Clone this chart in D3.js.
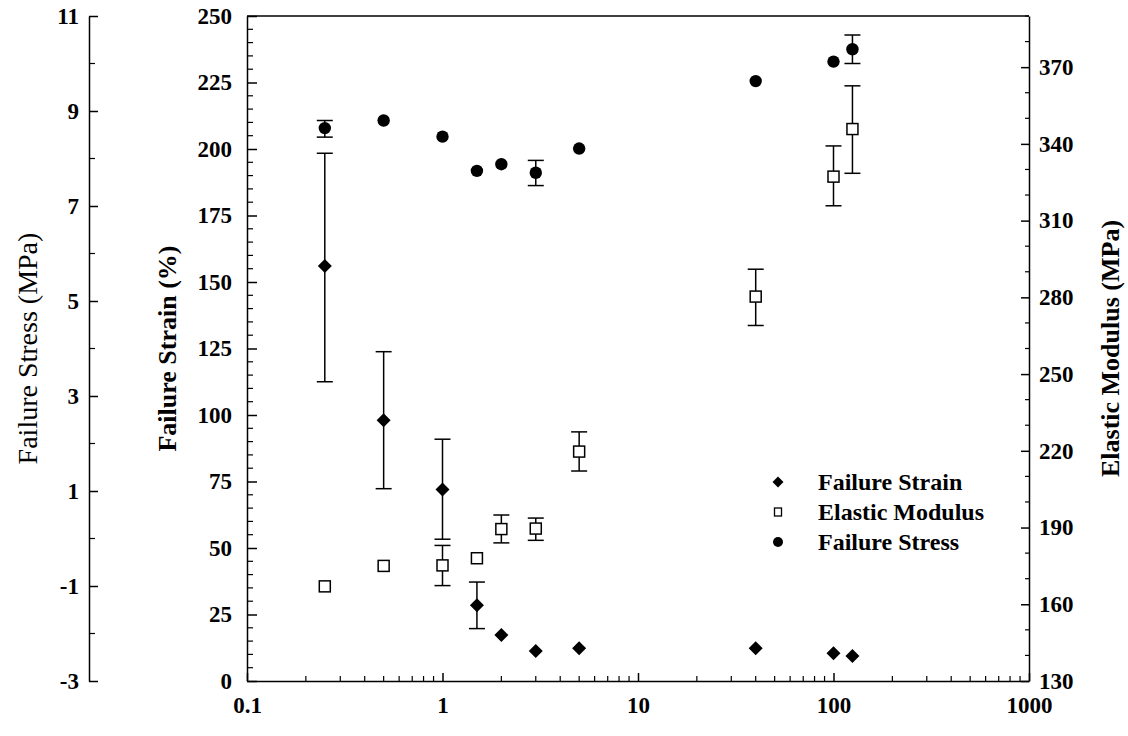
<!DOCTYPE html>
<html><head><meta charset="utf-8">
<script src="https://cdn.jsdelivr.net/npm/d3@7"></script>
<style>
html,body{margin:0;padding:0;background:#fff;}
svg{display:block;}
text{font-family:"Liberation Serif","Times New Roman",serif;fill:#000;}
</style></head>
<body>
<svg id="chart" width="1128" height="736"></svg>
<script>
// ---- data ----
const rates = [0.25, 0.5, 1, 1.5, 2, 3, 5, 40, 100, 125];
const strain = [156, 98, 72, 28.5, 17.3, 11.3, 12.3, 12.3, 10.4, 9.4];
const strainLo = [112.5, 72.3, 53.3, 19.7, null, null, null, null, null, null];
const strainHi = [198.4, 123.8, 90.9, 37.2, null, null, null, null, null, null];
const modulus = [167, 175, 175.2, 178, 189.4, 189.6, 219.7, 280.3, 327.2, 345.8];
const modulusLo = [null, null, 167.3, null, 184, 185, 212.1, 269, 315.8, 328.5];
const modulusHi = [null, null, 183, null, 194.9, 193.7, 227.4, 291, 339.2, 362.7];
const stress = [8.64, 8.80, 8.46, 7.74, 7.88, 7.70, 8.21, 9.63, 10.04, 10.30];
const stressLo = [8.45, null, null, null, null, 7.43, null, null, null, 10.0];
const stressHi = [8.80, null, null, null, null, 7.96, null, null, null, 10.6];
const xTicks = [0.1, 1, 10, 100, 1000];
const xTickLabels = ["0.1", "1", "10", "100", "1000"];
const strainTicks = [0, 25, 50, 75, 100, 125, 150, 175, 200, 225, 250];
const stressTicks = [-3, -1, 1, 3, 5, 7, 9, 11];
const modulusTicks = [130, 160, 190, 220, 250, 280, 310, 340, 370];
const seriesNames = ["Failure Strain", "Elastic Modulus", "Failure Stress"];

// ---- layout ----
const L = 247, R = 1029, T = 16, B = 681;
const svg = d3.select("#chart");
svg.append("rect").attr("width",1128).attr("height",736).attr("fill","#fff");

const x = d3.scaleLog().domain([0.1, 1000]).range([L, R]);
const yStrain = d3.scaleLinear().domain([0, 250]).range([B, T]);
const yStress = d3.scaleLinear().domain([-3, 11]).range([B, T]);
const yMod = d3.scaleLinear().domain([130, 390]).range([B, T]);

const fmt = d => String(d);
const tickFont = g => g.selectAll("text").style("font-size","23px").style("font-weight","bold");
const cleanLines = g => g.selectAll("line,path").attr("stroke","#000").attr("stroke-width",1.5);

function minorY(scale, vals, xpos, len) {
  svg.append("g").selectAll("line").data(vals).join("line")
    .attr("x1", xpos).attr("x2", xpos + len)
    .attr("y1", d => scale(d)).attr("y2", d => scale(d))
    .attr("stroke","#000").attr("stroke-width",1.2);
}

// strain axis (left of plot)
const strainMinor = d3.range(0, 251, 5).filter(v => v % 25 !== 0);
minorY(yStrain, strainMinor, L, 6);
svg.append("g").attr("transform",`translate(${L},0)`)
  .call(d3.axisLeft(yStrain).tickValues(strainTicks).tickFormat(fmt).tickSizeInner(-10).tickSizeOuter(0).tickPadding(15))
  .call(tickFont).call(cleanLines);

// stress axis (far left)
const stressAxisX = 89;
const stressMinor = d3.range(-2, 11, 2);
minorY(yStress, stressMinor, stressAxisX, 6);
svg.append("g").attr("transform",`translate(${stressAxisX},0)`)
  .call(d3.axisLeft(yStress).tickValues(stressTicks).tickFormat(fmt).tickSizeInner(-9).tickSizeOuter(0).tickPadding(10))
  .call(tickFont).call(cleanLines);

// modulus axis (right)
const modMinor = d3.range(130, 391, 10).filter(v => (v - 130) % 30 !== 0);
minorY(yMod, modMinor, R, -4);
svg.append("g").attr("transform",`translate(${R},0)`)
  .call(d3.axisRight(yMod).tickValues(modulusTicks).tickFormat(fmt).tickSizeInner(-8).tickSizeOuter(0).tickPadding(10))
  .call(tickFont).call(cleanLines);

// x axis
const xMinor = [];
[0.1, 1, 10, 100].forEach(d => { for (let k = 2; k <= 9; k++) xMinor.push(d * k); });
svg.append("g").selectAll("line").data(xMinor).join("line")
  .attr("x1", d => x(d)).attr("x2", d => x(d)).attr("y1", B).attr("y2", B - 5)
  .attr("stroke","#000").attr("stroke-width",1.2);
svg.append("g").attr("transform",`translate(0,${B})`)
  .call(d3.axisBottom(x).tickValues(xTicks).tickFormat((d,i) => xTickLabels[i]).tickSizeInner(-8).tickSizeOuter(0).tickPadding(16))
  .call(tickFont).call(cleanLines);

// top border
svg.append("line").attr("x1", L).attr("x2", R).attr("y1", T).attr("y2", T)
  .attr("stroke","#000").attr("stroke-width",1.5);

// axis titles
svg.append("text").attr("transform",`translate(27,${(T+B)/2}) rotate(-90)`)
  .attr("text-anchor","middle").attr("dominant-baseline","central")
  .style("font-size","28px").text("Failure Stress (MPa)");
svg.append("text").attr("transform",`translate(167,${(T+B)/2}) rotate(-90)`)
  .attr("text-anchor","middle").attr("dominant-baseline","central")
  .style("font-size","26px").style("font-weight","bold").text("Failure Strain (%)");
svg.append("text").attr("transform",`translate(1110,${(T+B)/2}) rotate(-90)`)
  .attr("text-anchor","middle").attr("dominant-baseline","central")
  .style("font-size","26px").style("font-weight","bold").text("Elastic Modulus (MPa)");

// error bars
function errorBars(lo, hi, yScale) {
  const g = svg.append("g").attr("stroke","#000").attr("stroke-width",1.5);
  rates.forEach((r, i) => {
    if (lo[i] == null) return;
    const cx = x(r);
    g.append("line").attr("x1",cx).attr("x2",cx).attr("y1",yScale(lo[i])).attr("y2",yScale(hi[i]));
    g.append("line").attr("x1",cx-8).attr("x2",cx+8).attr("y1",yScale(lo[i])).attr("y2",yScale(lo[i]));
    g.append("line").attr("x1",cx-8).attr("x2",cx+8).attr("y1",yScale(hi[i])).attr("y2",yScale(hi[i]));
  });
}
errorBars(strainLo, strainHi, yStrain);
errorBars(modulusLo, modulusHi, yMod);
errorBars(stressLo, stressHi, yStress);

function diamondPath(s){ return `M0,${-s}L${s},0L0,${s}L${-s},0Z`; }

// markers
svg.append("g").selectAll("path").data(rates).join("path")
  .attr("transform",(d,i)=>`translate(${x(d)},${yStrain(strain[i])})`)
  .attr("d", diamondPath(7)).attr("fill","#000");
svg.append("g").selectAll("rect").data(rates).join("rect")
  .attr("x", d => x(d) - 5.5).attr("y",(d,i)=> yMod(modulus[i]) - 5.5)
  .attr("width",11).attr("height",11)
  .attr("fill","#fff").attr("stroke","#000").attr("stroke-width",1.5);
svg.append("g").selectAll("circle").data(rates).join("circle")
  .attr("cx", d => x(d)).attr("cy",(d,i)=> yStress(stress[i])).attr("r",6.2).attr("fill","#000");

// legend
const lg = svg.append("g");
const lx = 778, ly = [482, 512, 542];
lg.append("path").attr("transform",`translate(${lx},${ly[0]})`).attr("d", diamondPath(5.5)).attr("fill","#000");
lg.append("rect").attr("x",lx-3.5).attr("y",ly[1]-4).attr("width",7).attr("height",8)
  .attr("fill","#fff").attr("stroke","#000").attr("stroke-width",1.3);
lg.append("circle").attr("cx",lx).attr("cy",ly[2]).attr("r",5).attr("fill","#000");
seriesNames.forEach((n,i) => {
  lg.append("text").attr("x",818).attr("y",ly[i]).attr("dominant-baseline","central")
    .style("font-size","24px").style("font-weight","bold").text(n);
});
</script>
</body></html>
